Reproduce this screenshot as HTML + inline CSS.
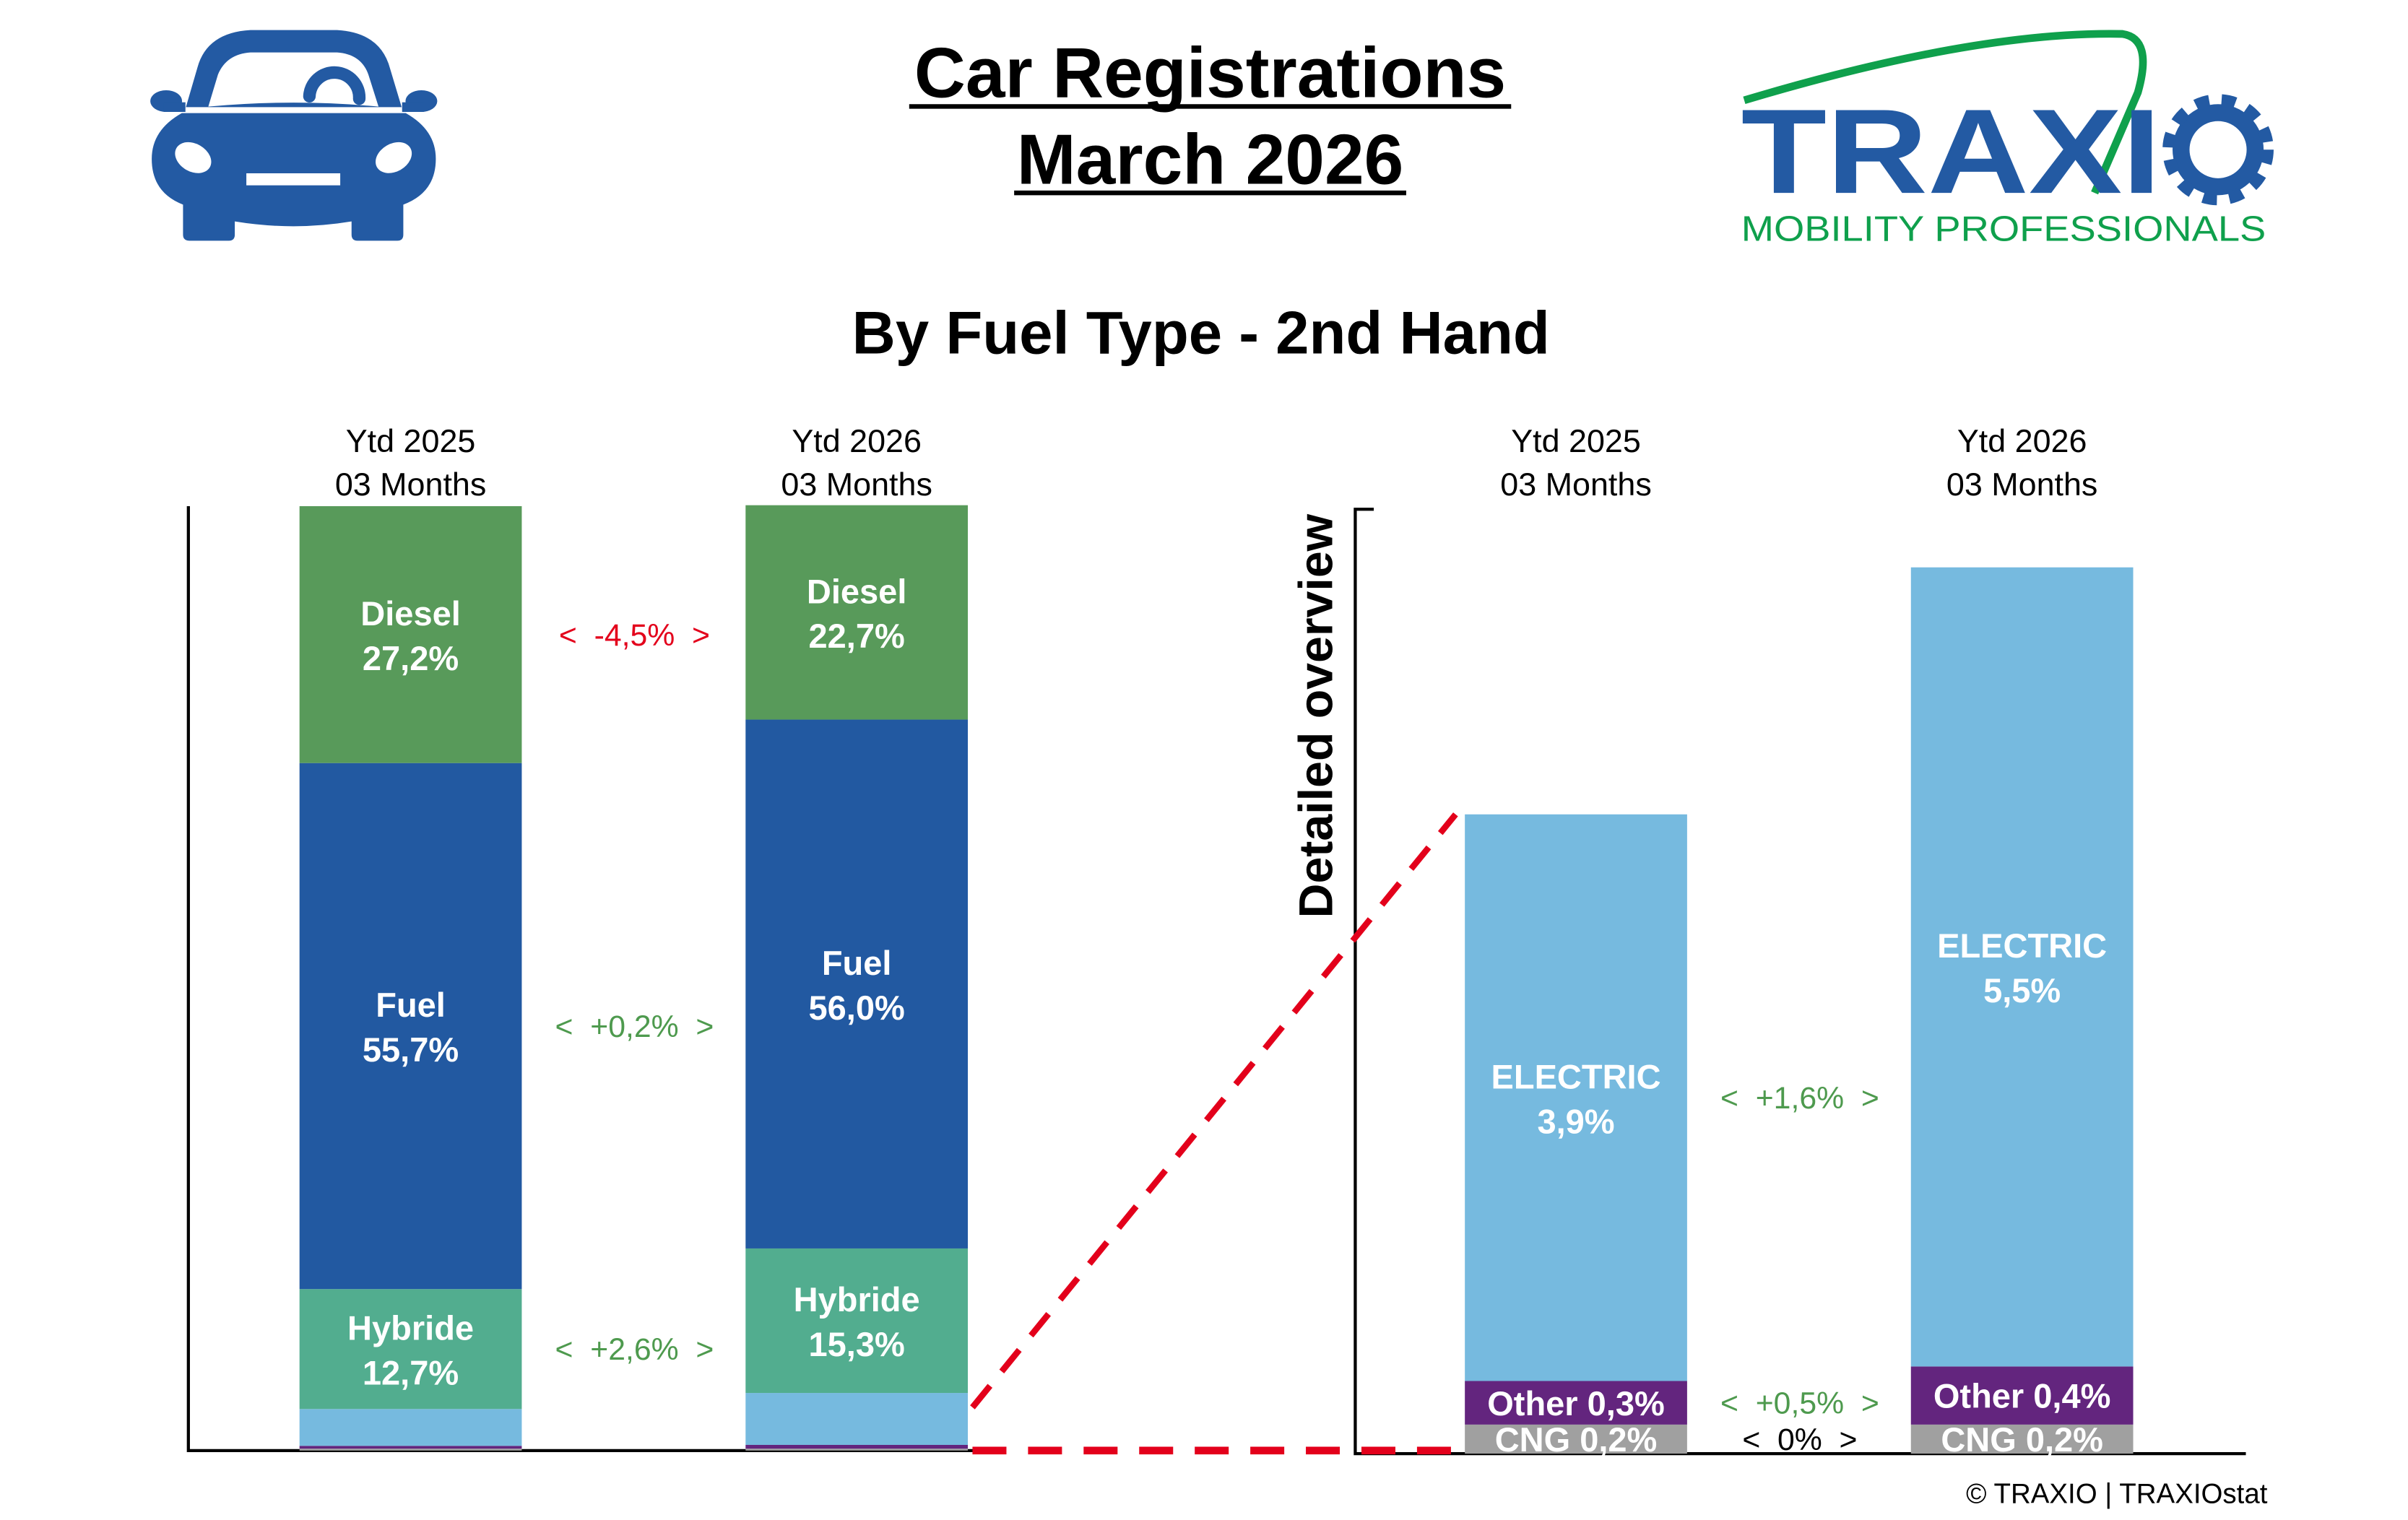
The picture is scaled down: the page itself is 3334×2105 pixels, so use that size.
<!DOCTYPE html>
<html><head><meta charset="utf-8"><style>
html,body{margin:0;padding:0;background:#fff;}
svg{display:block;font-family:"Liberation Sans",Arial,sans-serif;}
text{white-space:pre;}
</style></head><body>
<svg id="chart" width="3334" height="2105" viewBox="0 0 1560 985" xmlns="http://www.w3.org/2000/svg">
<g transform="scale(0.46792) translate(180,0) scale(0.33333)">
<path fill="#235AA3" d="M232,445 L280,280 Q320,135 500,125 L860,125 Q1040,135 1080,285 L1128,445 Z"/>
<ellipse cx="150" cy="420" rx="66" ry="45" fill="#235AA3"/>
<ellipse cx="1210" cy="420" rx="66" ry="45" fill="#235AA3"/>
<rect x="140" y="425" width="90" height="40" fill="#235AA3"/>
<rect x="1130" y="425" width="90" height="40" fill="#235AA3"/>
<path fill="#235AA3" d="M215,470 Q90,540 90,660 Q90,800 220,850 L220,975 Q220,1000 245,1000 L410,1000 Q435,1000 435,975 L435,920 Q680,960 920,920 L920,975 Q920,1000 945,1000 L1110,1000 Q1135,1000 1135,975 L1135,850 Q1270,800 1270,660 Q1270,540 1145,470 Z"/>
<path fill="#fff" d="M325,443 L365,310 Q400,225 500,218 L860,218 Q960,225 990,310 L1032,443 Q680,410 325,443 Z"/>
<path d="M745,400 A103,103 0 0 1 952,410" fill="none" stroke="#235AA3" stroke-width="52" stroke-linecap="round"/>
<ellipse cx="262" cy="655" rx="80" ry="58" transform="rotate(30 262 655)" fill="#fff"/>
<ellipse cx="1095" cy="655" rx="80" ry="58" transform="rotate(-30 1095 655)" fill="#fff"/>
<rect x="483" y="720" width="390" height="50" fill="#fff"/>
</g>

<g font-weight="bold" font-size="46" text-anchor="middle" fill="#000">
<text x="784" y="63">Car Registrations</text>
<text x="784" y="119">March 2026</text>
</g>
<line x1="589" y1="69" x2="979" y2="69" stroke="#000" stroke-width="3"/>
<line x1="657" y1="125" x2="911" y2="125" stroke="#000" stroke-width="3"/>

<g>
<path d="M1130,65 Q1280,20 1375,22 Q1395,25 1385,60 L1357,125" fill="none" stroke="#0FA04C" stroke-width="5"/>
<text x="1128" y="125" font-size="78" font-weight="bold" fill="#235AA3" textLength="272" lengthAdjust="spacingAndGlyphs">TRAXI</text>
<circle cx="1437" cy="97" r="24" fill="none" stroke="#235AA3" stroke-width="11"/>
<circle cx="1437" cy="97" r="32" fill="none" stroke="#235AA3" stroke-width="8" stroke-dasharray="9 8"/>
<text x="1128" y="156" font-size="23" fill="#0FA04C" textLength="340" lengthAdjust="spacingAndGlyphs">MOBILITY PROFESSIONALS</text>
</g>

<text x="778" y="229" font-size="39" font-weight="bold" text-anchor="middle">By Fuel Type - 2nd Hand</text>
<text x="0" y="0" font-size="31" font-weight="bold" text-anchor="middle" transform="translate(863,464) rotate(-90)">Detailed overview</text>
<text x="1469" y="974" font-size="18" text-anchor="end">© TRAXIO | TRAXIOstat</text>
<g id="plot"></g>
</svg>
<script>
const fuelTypes = ["CNG","Other","ELECTRIC","Hybride","Fuel","Diesel"];
const periods = ["Ytd 2025","Ytd 2026"];
const share2025 = [0.2,0.3,3.9,12.7,55.7,27.2];
const share2026 = [0.2,0.4,5.5,15.3,56.0,22.7];
const deltaMain = ["+2,6%","+0,2%","-4,5%"];
const deltaDetail = ["0%","+0,5%","+1,6%"];
const colors = ["#A0A0A0","#63257E","#76BADF","#52AD8F","#2259A1","#589A5A"];

const NS="http://www.w3.org/2000/svg";
const plot=document.getElementById('plot');
function mk(tag,attrs,txt){const e=document.createElementNS(NS,tag);for(const k in attrs)e.setAttribute(k,attrs[k]);if(txt!==undefined)e.textContent=txt;plot.appendChild(e);return e;}
const L={base:940,top:328,max:100,x:[194,483],w:144};
const R={base:942,top:330,max:6.5,x:[949,1238],w:144};
function yL(v){return L.base-(v/L.max)*(L.base-L.top);}
function yR(v){return R.base-(v/R.max)*(R.base-R.top);}
const series=[share2025,share2026];
function sum(a,n){return a.slice(0,n).reduce((p,q)=>p+q,0);}

let a=mk('path',{d:'M122,328 L122,940 L640,940',fill:'none',stroke:'#000','stroke-width':2});


a=mk('path',{d:'M890,330 L878,330 L878,942 L1455,942',fill:'none',stroke:'#000','stroke-width':2});



[L,R].forEach(ax=>{periods.forEach((p,i)=>{const cx=ax.x[i]+ax.w/2;
 let t=mk('text',{x:cx,y:293,'font-size':21,'text-anchor':'middle'},p);
 
 
 t=mk('text',{x:cx,y:321,'font-size':21,'text-anchor':'middle'},'03 Months');
 
 });});

series.forEach((vals,i)=>{let cum=0;vals.forEach((v,j)=>{const y0=yL(cum),y1=yL(cum+v);cum+=v;
 const r=mk('rect',{x:L.x[i],y:y1,width:L.w,height:y0-y1,fill:colors[j]});
 
 
 if(j>=3){const cy=(y0+y1)/2;const cx=L.x[i]+L.w/2;
  const t=mk('text',{x:cx,y:cy-6,'font-size':22,'font-weight':'bold',fill:'#fff','text-anchor':'middle'},fuelTypes[j]);
  
  
  const t2=mk('text',{x:cx,y:cy+23,'font-size':22,'font-weight':'bold',fill:'#fff','text-anchor':'middle'},v.toFixed(1).replace('.',',')+'%');
  
  }
});});
[3,4,5].forEach((j,k)=>{const cy=(yL(sum(share2025,j))+yL(sum(share2025,j+1)))/2;
 const d=deltaMain[k];const col=d.startsWith('-')?'#E3001B':'#4E9A4E';
 const t=mk('text',{x:411,y:cy+7,'font-size':20,fill:col,'text-anchor':'middle'},'<  '+d+'  >');
 
 });

series.forEach((vals,i)=>{let cum=0;[0,1,2].forEach(j=>{const v=vals[j];const y0=yR(cum),y1=yR(cum+v);cum+=v;
 const r=mk('rect',{x:R.x[i],y:y1,width:R.w,height:y0-y1,fill:colors[j]});
 
 
 const cx=R.x[i]+R.w/2,cy=(y0+y1)/2,val=v.toFixed(1).replace('.',',')+'%';
 if(j<2){const t=mk('text',{x:cx,y:cy+8,'font-size':22,'font-weight':'bold',fill:'#fff','text-anchor':'middle'},fuelTypes[j]+' '+val);
  
  }
 else{const t=mk('text',{x:cx,y:cy-6,'font-size':22,'font-weight':'bold',fill:'#fff','text-anchor':'middle'},fuelTypes[j]);
  
  
  const t2=mk('text',{x:cx,y:cy+23,'font-size':22,'font-weight':'bold',fill:'#fff','text-anchor':'middle'},val);
  
  }
});});
[0,1,2].forEach(k=>{const d=deltaDetail[k];const col=d==='0%'?'#000':'#4E9A4E';
 const cy=(yR(sum(share2025,k))+yR(sum(share2025,k+1)))/2;
 const t=mk('text',{x:1166,y:cy+7,'font-size':20,fill:col,'text-anchor':'middle'},'<  '+d+'  >');
 
 });

let ln=mk('line',{x1:630,y1:912,x2:943,y2:yR(sum(share2025,3)),stroke:'#E3001B','stroke-width':4,'stroke-dasharray':'18 12'});


ln=mk('line',{x1:630,y1:940,x2:945,y2:940,stroke:'#E3001B','stroke-width':5,'stroke-dasharray':'22 14'});


</script>
</body></html>
